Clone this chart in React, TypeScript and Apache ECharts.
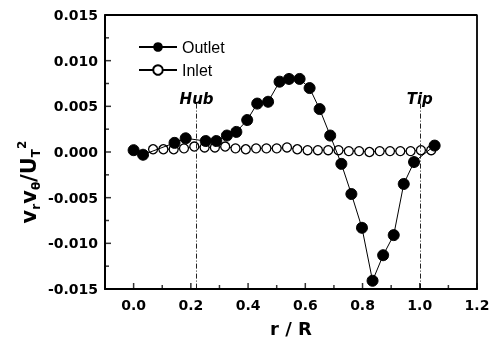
import React, { useEffect, useRef, useState } from "react";
import * as echarts from "echarts";

const outletR = [0.0, 0.033, 0.143, 0.182, 0.252, 0.289, 0.326, 0.359, 0.397, 0.432, 0.47, 0.51, 0.543, 0.58, 0.615, 0.65, 0.687, 0.726, 0.761, 0.798, 0.835, 0.872, 0.909, 0.944, 0.98, 1.052];
const outletV = [0.0002, -0.0003, 0.001, 0.0015, 0.0012, 0.0012, 0.0018, 0.0022, 0.0035, 0.0053, 0.0055, 0.0077, 0.008, 0.008, 0.007, 0.0047, 0.0018, -0.0013, -0.0046, -0.0083, -0.0141, -0.0113, -0.0091, -0.0035, -0.0011, 0.0007];

const inletR = [0.068, 0.104, 0.14, 0.176, 0.212, 0.248, 0.284, 0.32, 0.356, 0.392, 0.428, 0.464, 0.5, 0.536, 0.572, 0.608, 0.644, 0.68, 0.716, 0.752, 0.788, 0.824, 0.86, 0.896, 0.932, 0.968, 1.004, 1.04];
const inletV = [0.0003, 0.0003, 0.0003, 0.0004, 0.0006, 0.0005, 0.0005, 0.0006, 0.0004, 0.0003, 0.0004, 0.0004, 0.0004, 0.0005, 0.0003, 0.0002, 0.0002, 0.0002, 0.0002, 0.0001, 0.0001, 0.0, 0.0001, 0.0001, 0.0001, 0.0001, 0.0002, 0.0002];

const xMajorTicks = [0.0, 0.2, 0.4, 0.6, 0.8, 1.0, 1.2];
const xMinorTicks = [0.1, 0.3, 0.5, 0.7, 0.9, 1.1];
const yMajorTicks = [-0.01, -0.005, 0.0, 0.005, 0.01];
const yMinorTicks = [-0.0125, -0.0075, -0.0025, 0.0025, 0.0075, 0.0125];

const markers = [
  { name: "Hub", r: 0.22 },
  { name: "Tip", r: 1.0 },
];
const markerTop = 0.0053;

const X_MIN = -0.1;
const X_MAX = 1.2;
const X_STEP = 0.1;
const Y_MIN = -0.015;
const Y_MAX = 0.015;
const Y_STEP = 0.005;

const BOLD = "DejaVu Sans";

export default function App() {
  const ref = useRef<HTMLDivElement>(null);
  const [err, setErr] = useState("");
  useEffect(() => {
    if (!ref.current) return;
    const chart = echarts.init(ref.current, undefined, { renderer: "svg" });
    try {
      const outletData = outletR.map((r, i) => [r, outletV[i]]);
      const inletData = inletR.map((r, i) => [r, inletV[i]]);
      const tickSeries = (data: number[][], size: number[], offset: number[]) => ({
        type: "scatter",
        silent: true,
        clip: false,
        z: 5,
        data,
        symbol: "rect",
        symbolSize: size,
        symbolOffset: offset,
        itemStyle: { color: "#000" },
      });
      chart.setOption({
        animation: false,
        grid: { left: 105, right: 23, top: 15, bottom: 50 },
        legend: {
          orient: "vertical",
          left: 133,
          top: 34,
          itemWidth: 38,
          itemHeight: 12,
          itemGap: 7,
          textStyle: { fontFamily: "Liberation Sans", fontSize: 16, color: "#000" },
          data: ["Outlet", "Inlet"],
        },
        xAxis: {
          type: "value",
          min: X_MIN,
          max: X_MAX,
          interval: X_STEP,
          name: "r / R",
          nameLocation: "middle",
          nameGap: 30,
          nameTextStyle: { fontFamily: BOLD, fontWeight: "bold", fontSize: 18, color: "#000" },
          axisLine: { show: true, onZero: false, lineStyle: { color: "#000", width: 2 } },
          axisTick: { show: false },
          axisLabel: {
            margin: 9,
            formatter: (v: number) => {
              const k = Math.round(v * 10);
              return k >= 0 && k % 2 === 0 ? (k / 10).toFixed(1) : "";
            },
            fontFamily: BOLD,
            fontWeight: "bold",
            fontSize: 14,
            color: "#000",
          },
          splitLine: { show: false },
        },
        yAxis: {
          type: "value",
          min: Y_MIN,
          max: Y_MAX,
          interval: Y_STEP,
          axisLine: { show: true, onZero: false, lineStyle: { color: "#000", width: 2 } },
          axisTick: { show: false },
          axisLabel: {
            margin: 7,
            formatter: (v: number) => (Math.abs(v) < 1e-9 ? 0 : v).toFixed(3),
            fontFamily: BOLD,
            fontWeight: "bold",
            fontSize: 14,
            color: "#000",
          },
          splitLine: { show: false },
        },
        graphic: [
          {
            type: "text",
            x: 29,
            y: 182,
            rotation: Math.PI / 2,
            style: {
              text: "{m|v}{s|r}{m|v}{s|θ}{m|/U}{s|T}{p|2}",
              align: "center",
              verticalAlign: "middle",
              fill: "#000",
              rich: {
                m: { fontFamily: BOLD, fontWeight: "bold", fontSize: 21, lineHeight: 26, verticalAlign: "middle", fill: "#000" },
                s: { fontFamily: BOLD, fontWeight: "bold", fontSize: 12, lineHeight: 26, verticalAlign: "bottom", fill: "#000" },
                p: { fontFamily: BOLD, fontWeight: "bold", fontSize: 12, lineHeight: 26, verticalAlign: "top", fill: "#000" },
              },
            },
          },
        ],
        series: [
          {
            name: "frame",
            type: "line",
            silent: true,
            clip: false,
            symbol: "none",
            z: 6,
            data: [
              [X_MIN, Y_MIN],
              [X_MIN, Y_MAX],
              [X_MAX, Y_MAX],
              [X_MAX, Y_MIN],
              [X_MIN, Y_MIN],
            ],
            lineStyle: { color: "#000", width: 1.8 },
          },
          tickSeries(xMajorTicks.map((v) => [v, Y_MIN]), [1.5, 6], [0, -3]),
          tickSeries(xMinorTicks.map((v) => [v, Y_MIN]), [1.5, 4], [0, -2]),
          tickSeries(yMajorTicks.map((v) => [X_MIN, v]), [6, 1.5], [3, 0]),
          tickSeries(yMinorTicks.map((v) => [X_MIN, v]), [4, 1.5], [2, 0]),
          {
            name: "Inlet",
            type: "line",
            data: inletData,
            symbol: "circle",
            symbolSize: 9,
            z: 2,
            itemStyle: { color: "#fff", borderColor: "#000", borderWidth: 1.3 },
            lineStyle: { color: "#000", width: 1 },
            markLine: {
              silent: true,
              symbol: "none",
              lineStyle: { color: "#222", width: 1, type: [5, 2, 1, 2] },
              label: {
                show: true,
                position: "start",
                distance: -3,
                formatter: "{b}",
                fontFamily: BOLD,
                fontWeight: "bold",
                fontStyle: "italic",
                fontSize: 15,
                color: "#000",
              },
              data: markers.map((m) => [
                { name: m.name, coord: [m.r, markerTop] },
                { coord: [m.r, Y_MIN] },
              ]),
            },
          },
          {
            name: "Outlet",
            type: "line",
            data: outletData,
            symbol: "circle",
            symbolSize: 11,
            z: 3,
            itemStyle: { color: "#000", borderColor: "#000" },
            lineStyle: { color: "#000", width: 1 },
          },
        ],
      });
    } catch (e: any) {
      setErr(String(e && e.stack ? e.stack : e));
    }
    return () => chart.dispose();
  }, []);
  return (
    <>
      <div ref={ref} style={{ position: "fixed", left: 0, top: 0, width: 500, height: 342 }} />
      {err ? <pre style={{ position: "fixed", left: 0, top: 0, fontSize: 9, color: "red", zIndex: 5 }}>{err}</pre> : null}
    </>
  );
}
